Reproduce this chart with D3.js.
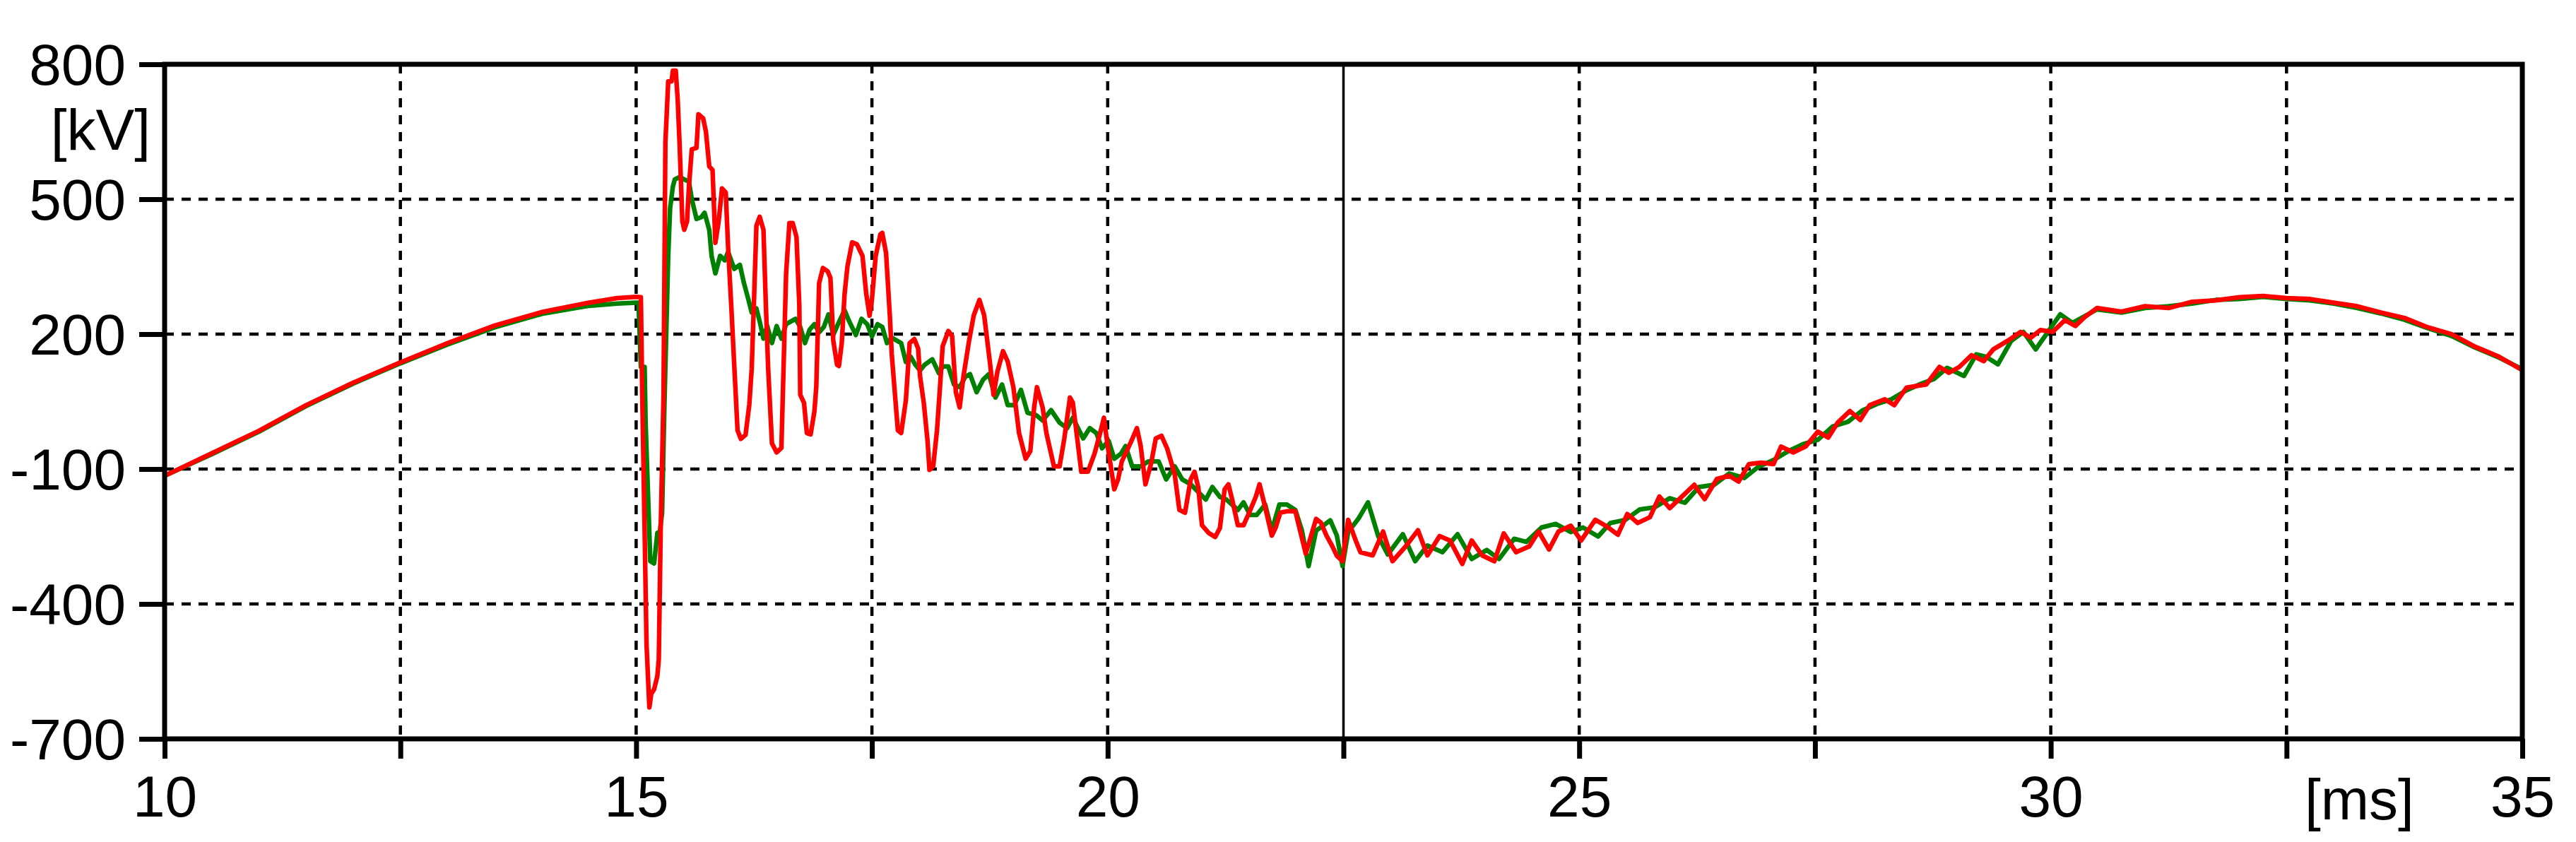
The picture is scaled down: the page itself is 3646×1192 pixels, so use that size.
<!DOCTYPE html>
<html>
<head>
<meta charset="utf-8">
<script src="https://cdn.jsdelivr.net/npm/d3@7"></script>
<style>
  html, body { margin: 0; padding: 0; background: #ffffff; }
  svg { display: block; }
  text { font-family: "Liberation Sans", Arial, sans-serif; }
</style>
</head>
<body>
<svg id="chart" width="3646" height="1192"></svg>
<script>
// ---------- data ----------
const xTicks = [10, 12.5, 15, 17.5, 20, 22.5, 25, 27.5, 30, 32.5, 35];
const xLabelled = [10, 15, 20, 25, 30, 35];
const yTicks = [800, 500, 200, -100, -400, -700];
const xUnit = "[ms]";
const yUnit = "[kV]";
const cursorTime = 22.5;

// red trace: time [ms] and voltage [kV]
const redT = [10.0,10.5,11.0,11.5,12.0,12.5,13.0,13.5,14.0,14.5,14.8,15.0,15.05,15.065,15.09,15.11,15.14,15.16,15.19,15.225,15.24,15.26,15.29,15.31,15.34,15.375,15.39,15.42,15.44,15.46,15.49,15.51,15.54,15.56,15.59,15.64,15.66,15.71,15.74,15.775,15.81,15.84,15.875,15.91,15.95,15.975,16.01,16.04,16.075,16.11,16.16,16.2,16.225,16.25,16.275,16.31,16.35,16.375,16.4,16.44,16.49,16.54,16.56,16.59,16.625,16.66,16.70,16.73,16.74,16.78,16.81,16.85,16.89,16.91,16.94,16.98,17.03,17.06,17.09,17.13,17.15,17.18,17.21,17.24,17.29,17.34,17.40,17.44,17.475,17.5,17.54,17.59,17.61,17.65,17.69,17.71,17.74,17.775,17.81,17.86,17.9,17.95,17.99,18.01,18.05,18.09,18.11,18.15,18.19,18.22,18.25,18.31,18.35,18.39,18.43,18.47,18.53,18.58,18.64,18.69,18.75,18.79,18.83,18.89,18.94,19.0,19.06,19.13,19.18,19.22,19.25,19.31,19.35,19.43,19.49,19.54,19.60,19.63,19.67,19.72,19.79,19.86,19.92,19.96,20.0,20.07,20.11,20.15,20.24,20.31,20.35,20.40,20.46,20.51,20.57,20.63,20.71,20.76,20.82,20.88,20.92,20.96,21.0,21.07,21.14,21.19,21.24,21.28,21.32,21.38,21.44,21.5,21.57,21.61,21.67,21.74,21.78,21.83,21.90,21.99,22.04,22.10,22.15,22.21,22.26,22.32,22.38,22.43,22.49,22.55,22.63,22.68,22.81,22.92,23.02,23.16,23.29,23.39,23.52,23.63,23.76,23.86,23.97,24.10,24.20,24.33,24.47,24.57,24.68,24.78,24.91,25.02,25.17,25.28,25.41,25.51,25.62,25.75,25.85,25.96,26.09,26.22,26.33,26.46,26.59,26.69,26.80,26.93,27.06,27.14,27.27,27.40,27.53,27.64,27.74,27.87,27.98,28.08,28.24,28.34,28.47,28.68,28.82,28.92,29.03,29.16,29.29,29.39,29.55,29.68,29.79,29.89,30.02,30.15,30.26,30.36,30.49,30.75,31.0,31.25,31.5,31.75,32.0,32.25,32.5,32.75,33.0,33.25,33.5,33.75,34.0,34.25,34.5,34.75,35.0];
const redV = [-115,-65,-15,42,92,137,180,219,249,270,280,283,282,60,-240,-490,-630,-600,-590,-560,-523,-237,63,626,762,762,786,786,723,626,451,432,451,529,611,614,689,680,650,573,565,403,451,524,515,393,257,131,-14,-33,-24,44,122,277,441,461,432,267,122,-43,-63,-53,102,335,447,447,416,265,65,47,-20,-23,28,83,313,347,340,325,186,132,129,180,289,350,404,400,374,289,241,277,374,422,425,380,241,156,77,-14,-20,53,180,189,168,107,47,-38,-102,-93,-14,77,173,207,196,71,37,105,185,242,276,242,139,65,116,162,139,82,-20,-77,-60,37,82,37,-20,-94,-94,-32,59,48,-20,-106,-106,-66,-20,14,-49,-145,-123,-83,-43,-9,-49,-134,-88,-32,-26,-54,-111,-191,-197,-123,-106,-140,-225,-242,-251,-231,-145,-134,-168,-225,-225,-197,-162,-134,-185,-248,-231,-197,-194,-194,-237,-288,-253,-211,-219,-248,-271,-293,-305,-213,-259,-285,-292,-239,-305,-272,-236,-292,-249,-259,-311,-259,-292,-305,-243,-285,-272,-239,-279,-239,-226,-259,-213,-226,-246,-200,-220,-207,-161,-187,-161,-135,-167,-122,-115,-128,-89,-86,-89,-50,-63,-50,-17,-30,3,29,9,42,55,42,81,88,127,114,127,153,140,166,186,205,192,209,205,231,218,238,258,250,262,258,272,275,282,285,280,278,270,262,248,236,215,200,172,150,120];

// green trace: time [ms] and voltage [kV]
const greenT = [10.0,10.5,11.0,11.5,12.0,12.5,13.0,13.5,14.0,14.5,14.8,15.0,15.025,15.05,15.09,15.1,15.125,15.15,15.19,15.225,15.25,15.275,15.3,15.34,15.36,15.39,15.41,15.46,15.51,15.56,15.59,15.64,15.69,15.725,15.775,15.8,15.84,15.89,15.94,15.975,16.04,16.1,16.14,16.19,16.225,16.275,16.31,16.35,16.39,16.44,16.49,16.54,16.59,16.64,16.69,16.74,16.79,16.84,16.89,16.94,16.99,17.04,17.09,17.14,17.21,17.26,17.33,17.39,17.45,17.5,17.56,17.61,17.66,17.71,17.76,17.81,17.86,17.91,17.96,18.01,18.06,18.14,18.21,18.25,18.31,18.37,18.43,18.49,18.54,18.61,18.68,18.74,18.81,18.88,18.94,19.01,19.08,19.15,19.24,19.31,19.40,19.49,19.57,19.63,19.74,19.81,19.88,19.94,20.01,20.07,20.14,20.19,20.26,20.35,20.43,20.54,20.62,20.71,20.79,20.88,20.96,21.04,21.11,21.19,21.26,21.38,21.44,21.51,21.58,21.67,21.74,21.82,21.90,21.99,22.06,22.13,22.21,22.29,22.36,22.43,22.49,22.55,22.66,22.76,22.87,22.97,23.13,23.26,23.39,23.55,23.71,23.86,24.02,24.15,24.31,24.44,24.6,24.75,24.91,25.04,25.2,25.33,25.49,25.64,25.8,25.96,26.12,26.27,26.43,26.59,26.75,26.9,27.06,27.22,27.37,27.53,27.69,27.85,28.0,28.16,28.31,28.47,28.63,28.76,28.9,29.08,29.21,29.31,29.44,29.58,29.71,29.84,29.97,30.1,30.23,30.36,30.49,30.75,31.0,31.25,31.5,31.75,32.0,32.25,32.5,32.75,33.0,33.25,33.5,33.75,34.0,34.25,34.5,34.75,35.0];
const greenV = [-115,-67,-17,40,90,135,177,215,245,263,268,270,270,127,127,5,-150,-305,-310,-242,-240,-198,44,374,480,529,544,549,544,539,500,456,460,470,432,374,335,374,364,383,345,354,316,277,248,257,228,190,218,180,218,190,222,228,234,216,180,210,222,204,216,244,198,222,253,228,198,234,222,195,222,216,180,192,186,180,138,150,132,119,132,144,113,128,128,88,82,105,111,71,99,111,59,88,42,42,76,25,20,8,31,3,-9,14,-32,-9,-20,-54,-37,-77,-66,-49,-94,-94,-83,-83,-123,-94,-123,-134,-151,-168,-140,-162,-168,-191,-174,-202,-202,-179,-237,-179,-179,-191,-237,-316,-237,-225,-214,-248,-316,-240,-210,-174,-250,-290,-245,-305,-270,-285,-245,-300,-280,-300,-255,-262,-230,-222,-240,-230,-250,-220,-213,-190,-185,-165,-175,-140,-135,-110,-120,-95,-80,-60,-45,-35,-5,5,30,45,55,75,90,100,125,107,155,150,133,185,205,166,205,244,225,240,255,248,258,262,268,276,278,283,278,275,268,258,246,232,213,196,170,148,122];

// ---------- drawing ----------
const W = 3646, H = 1192;
const plot = { left: 233, right: 3570, top: 91, bottom: 1046 };

const x = d3.scaleLinear().domain([10, 35]).range([plot.left, plot.right]);
const y = d3.scaleLinear().domain([-700, 800]).range([plot.bottom, plot.top]);

const svg = d3.select("#chart");
svg.append("rect").attr("width", W).attr("height", H).attr("fill", "#ffffff");

// grid
const grid = svg.append("g");
grid.selectAll("line.hg")
  .data(yTicks.filter(v => v !== 800 && v !== -700))
  .join("line")
  .attr("x1", plot.left).attr("x2", plot.right)
  .attr("y1", d => y(d)).attr("y2", d => y(d))
  .attr("stroke", "#000").attr("stroke-width", 4.5)
  .attr("stroke-dasharray", "13,11");
grid.selectAll("line.vg")
  .data(xTicks.filter(t => t !== 10 && t !== 35 && t !== cursorTime))
  .join("line")
  .attr("x1", d => x(d)).attr("x2", d => x(d))
  .attr("y1", plot.top).attr("y2", plot.bottom)
  .attr("stroke", "#000").attr("stroke-width", 4.5)
  .attr("stroke-dasharray", "13,11");
// cursor line
grid.append("line")
  .attr("x1", x(cursorTime)).attr("x2", x(cursorTime))
  .attr("y1", plot.top).attr("y2", plot.bottom)
  .attr("stroke", "#000").attr("stroke-width", 3.5);

// traces
svg.append("clipPath").attr("id", "clip").append("rect")
  .attr("x", plot.left).attr("y", plot.top)
  .attr("width", plot.right - plot.left).attr("height", plot.bottom - plot.top);

const line = d3.line().x(d => x(d[0])).y(d => y(d[1]));
const greenData = greenT.map((t, i) => [t, greenV[i]]);
const redData = redT.map((t, i) => [t, redV[i]]);

const traces = svg.append("g").attr("clip-path", "url(#clip)");
traces.append("path").datum(greenData).attr("d", line)
  .attr("fill", "none").attr("stroke", "#008000").attr("stroke-width", 6.5)
  .attr("stroke-linejoin", "round");
traces.append("path").datum(redData).attr("d", line)
  .attr("fill", "none").attr("stroke", "#ff0000").attr("stroke-width", 6.5)
  .attr("stroke-linejoin", "round");

// frame
svg.append("rect")
  .attr("x", plot.left).attr("y", plot.top)
  .attr("width", plot.right - plot.left).attr("height", plot.bottom - plot.top)
  .attr("fill", "none").attr("stroke", "#000").attr("stroke-width", 7);

// axes
const fontSize = 82;
const yAxis = d3.axisLeft(y).tickValues(yTicks).tickSize(36).tickSizeOuter(0).tickPadding(19)
  .tickFormat(d => String(d));
const gy = svg.append("g").attr("transform", `translate(${plot.left},0)`).call(yAxis);
gy.select(".domain").remove();
gy.selectAll(".tick line").attr("stroke", "#000").attr("stroke-width", 7);
gy.selectAll(".tick text").attr("fill", "#000").attr("font-size", fontSize)
  .attr("font-family", "Liberation Sans, Arial, sans-serif").attr("dy", "0.35em");

const xAxis = d3.axisBottom(x).tickValues(xTicks).tickSize(28).tickSizeOuter(0).tickPadding(24)
  .tickFormat(d => xLabelled.includes(d) ? String(d) : "");
const gx = svg.append("g").attr("transform", `translate(0,${plot.bottom})`).call(xAxis);
gx.select(".domain").remove();
gx.selectAll(".tick line").attr("stroke", "#000").attr("stroke-width", 7);
gx.selectAll(".tick text").attr("fill", "#000").attr("font-size", fontSize)
  .attr("font-family", "Liberation Sans, Arial, sans-serif");

// unit labels
svg.append("text").text(yUnit)
  .attr("x", 213).attr("y", 212).attr("text-anchor", "end")
  .attr("font-size", fontSize).attr("fill", "#000");
svg.append("text").text(xUnit)
  .attr("x", 3262).attr("y", 1160).attr("text-anchor", "start")
  .attr("font-size", fontSize).attr("fill", "#000");
</script>
</body>
</html>
